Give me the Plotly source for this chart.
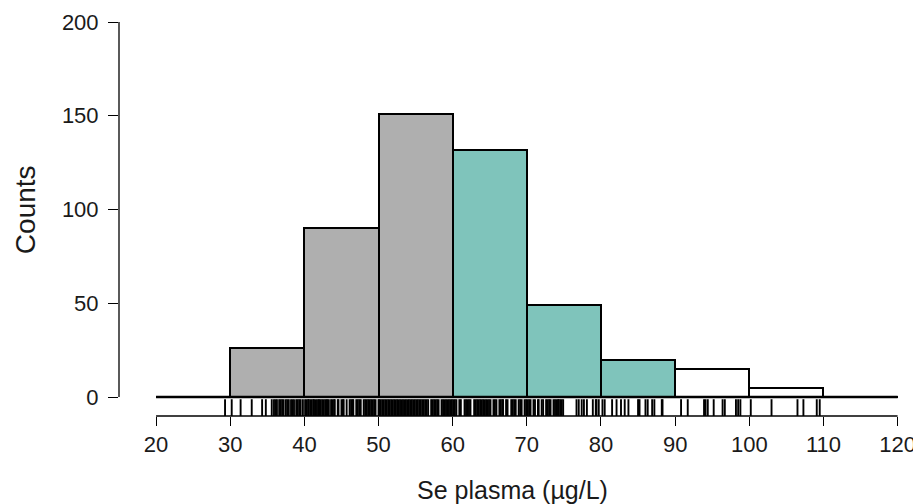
import plotly.graph_objects as go

# ---- data ----
bin_left = [20, 30, 40, 50, 60, 70, 80, 90, 100, 110]
bin_width = 10
counts = [0, 26, 90, 151, 132, 49, 20, 15, 5, 0]
groups = ["none", "low", "low", "low", "mid", "mid", "mid", "high", "high", "none"]

rug_values = [
    29.3, 30.2, 31.4, 32.9, 34.3, 34.8,
    35.6, 35.9, 36.1, 36.3, 36.6, 36.8, 37.0, 37.2, 37.5, 37.7, 37.9, 38.2, 38.4,
    38.6, 38.9, 39.1, 39.3, 39.5, 39.8,
    40.1, 40.3, 40.5, 40.6, 40.8, 41.0, 41.2, 41.3, 41.5, 41.7, 41.9, 42.0, 42.2,
    42.4, 42.6, 42.8, 43.0, 43.1, 43.3, 43.6, 43.8, 44.0, 44.1, 44.5, 44.6, 45.0,
    45.2, 45.3, 45.7, 46.1, 46.3, 46.5, 46.6, 47.0, 47.2, 47.4, 47.6, 48.0, 48.2,
    48.4, 48.6, 48.8, 49.0, 49.2, 49.4, 49.6, 50.0, 50.1,
    50.3, 50.5, 50.7, 50.9, 51.1, 51.3, 51.5, 51.7, 51.9, 52.1, 52.3, 52.5, 52.7,
    52.9, 53.1, 53.3, 53.5, 53.7, 53.9, 54.1, 54.3, 54.5, 54.7, 54.9, 55.1, 55.3,
    55.5, 55.7, 55.9, 56.1, 56.3, 56.5, 56.7, 57.1, 57.3, 57.5, 57.7, 57.9, 58.1,
    58.5, 58.7, 58.9, 59.1, 59.3, 59.5, 59.7, 59.9,
    60.1, 60.3, 60.5, 60.9, 61.1, 61.6, 61.8, 62.0, 62.2, 62.4, 62.9, 63.1, 63.3,
    63.5, 63.7, 63.9, 64.1, 64.3, 64.5, 64.7, 64.9, 65.1, 65.5, 65.7, 65.9, 66.3,
    66.5, 66.7, 66.8, 67.2, 67.4, 67.9, 68.1, 68.3, 68.5, 68.9, 69.1, 69.3, 69.7,
    69.9, 70.1, 70.3, 70.5, 70.9, 71.1, 71.5, 71.6, 72.0, 72.2, 72.6, 72.8, 73.0,
    73.2, 73.6, 73.8, 74.0, 74.2, 74.3, 74.5, 74.7, 74.9,
    76.7, 77.0, 77.4, 77.7, 78.1, 78.9, 79.3, 79.4, 79.7,
    80.2, 80.5, 81.5, 82.1, 82.7, 83.2, 83.7, 85.0, 85.2, 86.0, 86.3, 86.9, 87.2,
    88.2, 88.3,
    90.8, 91.7, 93.9, 94.1, 94.4, 95.2, 96.4, 96.7, 98.2, 98.5, 98.8,
    100.2, 103.0, 106.5, 107.3, 109.1, 109.5,
]

y_ticks = [0, 50, 100, 150, 200]
x_ticks = [20, 30, 40, 50, 60, 70, 80, 90, 100, 110, 120]

# ---- styles ----
group_colors = {"none": "white", "low": "#afafaf", "mid": "#7fc4bb", "high": "white"}
FONT = "Liberation Sans, Arial, sans-serif"
Y_MIN = -10.13
RUG_Y = -6.4

centers = [b + bin_width / 2 for b in bin_left]
colors = [group_colors[g] for g in groups]

fig = go.Figure()
fig.add_trace(go.Bar(
    x=centers, y=counts, width=[bin_width] * len(counts),
    marker=dict(color=colors, line=dict(color="black", width=2)),
    showlegend=False, hoverinfo="skip",
))
fig.add_trace(go.Scatter(
    x=rug_values, y=[RUG_Y] * len(rug_values), mode="markers",
    marker=dict(symbol="line-ns", size=14, color="black",
                line=dict(color="black", width=1.9)),
    showlegend=False, hoverinfo="skip",
))

x_lo, x_hi = bin_left[0], bin_left[-1] + bin_width
shapes = [
    dict(type="line", xref="x", yref="y", x0=x_lo, x1=x_hi, y0=0, y1=0,
         line=dict(color="black", width=2.5)),
    dict(type="line", xref="x", yref="paper", x0=x_ticks[0], x1=x_ticks[-1], y0=0, y1=0,
         line=dict(color="black", width=1.3)),
    dict(type="line", xref="paper", yref="y", x0=0, x1=0, y0=y_ticks[0], y1=y_ticks[-1],
         line=dict(color="black", width=1.3)),
]

fig.update_layout(
    width=913, height=496,
    margin=dict(l=111, r=16, t=14, b=88),
    paper_bgcolor="white", plot_bgcolor="white",
    font=dict(family=FONT, size=22, color="#1a1a1a"),
    bargap=0,
    shapes=shapes,
    xaxis=dict(range=[15, 121], tickvals=x_ticks, ticks="outside", ticklen=9,
               tickwidth=1.3, tickcolor="black", showline=False, showgrid=False,
               zeroline=False, tickfont=dict(size=22), automargin=False),
    yaxis=dict(range=[Y_MIN, 200], tickvals=y_ticks, ticks="outside", ticklen=10,
               tickwidth=1.3, tickcolor="black", showline=False, showgrid=False,
               zeroline=False, tickfont=dict(size=22), ticklabelstandoff=5,
               automargin=False),
    annotations=[
        dict(text="Se plasma (µg/L)", xref="paper", yref="paper", x=0.501, y=-0.188,
             xanchor="center", yanchor="middle", showarrow=False,
             font=dict(size=25, family=FONT, color="#1a1a1a")),
        dict(text="Counts", xref="paper", yref="paper", x=-0.1196, y=0.525,
             xanchor="center", yanchor="middle", textangle=-90, showarrow=False,
             font=dict(size=28, family=FONT, color="#1a1a1a")),
    ],
)

fig.write_html("out.html")
